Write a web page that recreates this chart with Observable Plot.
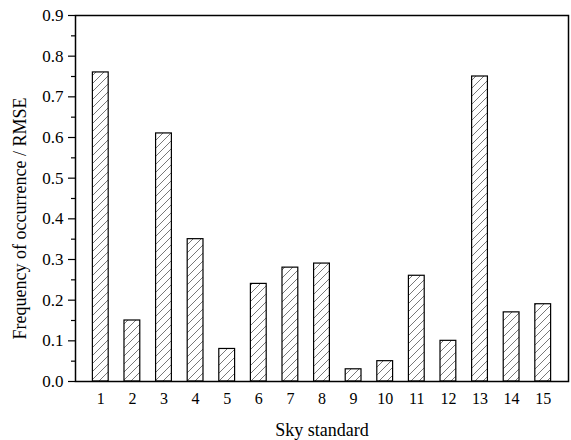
<!DOCTYPE html>
<html>
<head>
<meta charset="utf-8">
<script src="https://cdn.jsdelivr.net/npm/d3@7"></script>
<script src="https://cdn.jsdelivr.net/npm/@observablehq/plot@0.6"></script>
<style>
  html, body { margin: 0; padding: 0; background: #fff; }
</style>
</head>
<body>
<div id="chart"></div>
<script>
const categories = [1, 2, 3, 4, 5, 6, 7, 8, 9, 10, 11, 12, 13, 14, 15];
const values = [0.76, 0.15, 0.61, 0.35, 0.08, 0.24, 0.28, 0.29, 0.03, 0.05, 0.26, 0.10, 0.75, 0.17, 0.19];
const yTicks = [0, 0.1, 0.2, 0.3, 0.4, 0.5, 0.6, 0.7, 0.8, 0.9];
const yMinorTicks = [0.05, 0.15, 0.25, 0.35, 0.45, 0.55, 0.65, 0.75, 0.85];
const xTitle = "Sky standard";
const yTitle = "Frequency of occurrence / RMSE";

const data = categories.map((k, i) => ({k, v: values[i]}));

const chart = Plot.plot({
  width: 571,
  height: 440,
  marginLeft: 75,
  marginRight: 3,
  marginTop: 15,
  marginBottom: 59,
  style: {fontFamily: "'Liberation Serif', 'DejaVu Serif', serif", fontSize: "16px", color: "#000", background: "#fff"},
  x: {domain: [0.2, 15.8], axis: null},
  y: {domain: [0, 0.9], axis: null},
  marks: [
    Plot.rectY(data, {x1: d => d.k - 0.25, x2: d => d.k + 0.25, y1: 0, y2: "v", fill: "url(#hatch)", stroke: "#000", strokeWidth: 1.2}),
    Plot.axisY({ticks: yTicks, tickSize: 7, tickPadding: 5, tickFormat: d3.format(".1f"), label: null, stroke: "#000", strokeWidth: 1.2, fontSize: 17}),
    Plot.axisY({ticks: yMinorTicks, tickSize: 4, tickFormat: () => "", label: null, stroke: "#000", strokeWidth: 1.2}),
    Plot.axisX({ticks: categories, tickSize: 0, tickPadding: 11, tickFormat: d => String(d), label: null, fontSize: 16}),
    Plot.frame({stroke: "#000", strokeWidth: 1.5}),
    Plot.text([yTitle], {frameAnchor: "left", textAnchor: "middle", lineAnchor: "middle", dx: -55, dy: 20, rotate: -90, fontSize: 18, fill: "#000"}),
    Plot.text([xTitle], {frameAnchor: "bottom", textAnchor: "middle", lineAnchor: "middle", dy: 49, fontSize: 18, fill: "#000"})
  ]
});

const defs = document.createElementNS("http://www.w3.org/2000/svg", "defs");
defs.innerHTML = `<pattern id="hatch" patternUnits="userSpaceOnUse" width="8" height="8">
  <rect width="8" height="8" fill="#fff"/>
  <path d="M-2,2 L2,-2 M0,8 L8,0 M6,10 L10,6" stroke="#555" stroke-width="0.8"/>
</pattern>`;
chart.insertBefore(defs, chart.firstChild);

document.getElementById("chart").appendChild(chart);
</script>
</body>
</html>
